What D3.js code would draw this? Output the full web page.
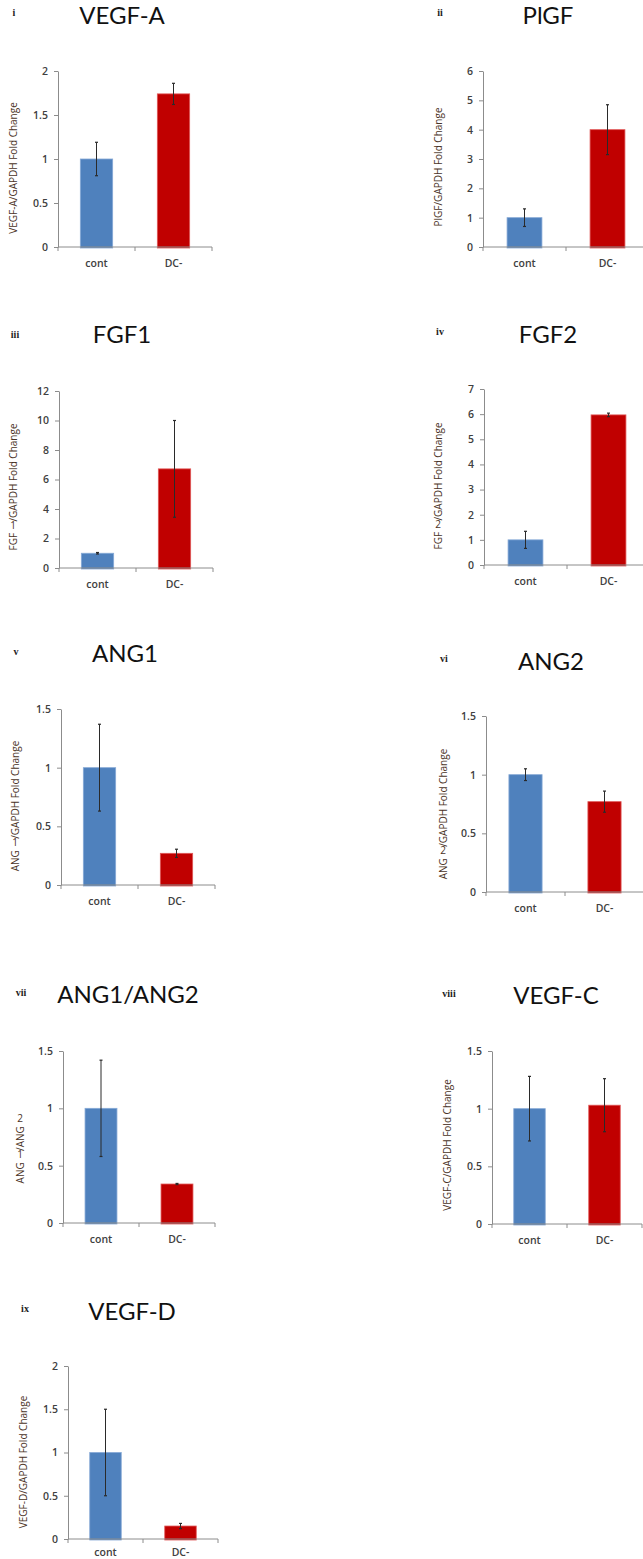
<!DOCTYPE html>
<html>
<head>
<meta charset="utf-8">
<script src="https://cdn.jsdelivr.net/npm/d3@7"></script>
<style>
  html, body { margin: 0; padding: 0; background: #fff; }
  svg { display: block; }
</style>
</head>
<body>
<svg id="chart" width="643" height="1559"></svg>
<script>
// ---------- DATA ----------
const panelIds = ["i", "ii", "iii", "iv", "v", "vi", "vii", "viii", "ix"];
const titles = ["VEGF-A", "PlGF", "FGF1", "FGF2", "ANG1", "ANG2", "ANG1/ANG2", "VEGF-C", "VEGF-D"];
const yLabels = [
  "VEGF-A/GAPDH Fold Change",
  "PlGF/GAPDH Fold Change",
  "FGF 1/GAPDH Fold Change",
  "FGF 2/GAPDH Fold Change",
  "ANG 1/GAPDH Fold Change",
  "ANG 2/GAPDH Fold Change",
  "ANG 1/ANG 2",
  "VEGF-C/GAPDH Fold Change",
  "VEGF-D/GAPDH Fold Change"
];
const categories = ["cont", "DC-"];
const contMeans = [1.0, 1.0, 1.0, 1.0, 1.0, 1.0, 1.0, 1.0, 1.0];
const contErrs  = [0.19, 0.30, 0.05, 0.34, 0.37, 0.05, 0.42, 0.28, 0.50];
const dcMeans   = [1.74, 4.0, 6.72, 5.97, 0.27, 0.77, 0.34, 1.03, 0.15];
const dcErrs    = [0.12, 0.85, 3.28, 0.07, 0.035, 0.09, 0.005, 0.23, 0.03];
const yMaxes    = [2, 6, 12, 7, 1.5, 1.5, 1.5, 1.5, 2];
const yTickSteps = [0.5, 1, 2, 1, 0.5, 0.5, 0.5, 0.5, 0.5];

// ---------- LAYOUT (positions only) ----------
const layout = [
  { ax: 58,  top: 71,   zero: 247,  cw: 77, tx: 122, ty: 24,   nx: 14,  ny: 16,   lx: 13,  ly: 168 },
  { ax: 483, top: 71,   zero: 247,  cw: 83, tx: 548, ty: 24,   nx: 440, ny: 16,   lx: 438, ly: 167 },
  { ax: 59,  top: 391,  zero: 568,  cw: 77, tx: 122, ty: 343,  nx: 15,  ny: 338,  lx: 13,  ly: 487 },
  { ax: 484, top: 389,  zero: 565,  cw: 83, tx: 548, ty: 343,  nx: 440, ny: 335,  lx: 438, ly: 486 },
  { ax: 61,  top: 709,  zero: 885,  cw: 77, tx: 125, ty: 662,  nx: 16,  ny: 655,  lx: 15,  ly: 806 },
  { ax: 486, top: 716,  zero: 892,  cw: 79, tx: 551, ty: 670,  nx: 444, ny: 662,  lx: 443, ly: 814 },
  { ax: 63,  top: 1051, zero: 1223, cw: 76, tx: 128, ty: 1003, nx: 21,  ny: 996,  lx: 20,  ly: 1150 },
  { ax: 492, top: 1051, zero: 1224, cw: 75, tx: 556, ty: 1004, nx: 449, ny: 997,  lx: 447, ly: 1145 },
  { ax: 68,  top: 1366, zero: 1539, cw: 75, tx: 132, ty: 1320, nx: 25,  ny: 1312, lx: 23,  ly: 1462 }
];

const colors = { "cont": "#4f81bd", "DC-": "#c00000" };
const strokes = { "cont": "#86a9d6", "DC-": "#e05858" };
const axisColor = "#8c8c8c";
const H = 1559;

const svg = d3.select("#chart");

panelIds.forEach((pid, i) => {
  const L = layout[i];
  const g = svg.append("g");

  const y = d3.scaleLinear().domain([0, yMaxes[i]]).range([L.zero, L.top]);
  const x = d3.scaleBand().domain(categories)
    .range([L.ax, L.ax + 2 * L.cw]).paddingInner(0.58).paddingOuter(0.29);

  const ticks = d3.range(0, yMaxes[i] + yTickSteps[i] / 2, yTickSteps[i]);

  // y axis
  const yAxis = d3.axisLeft(y).tickValues(ticks).tickFormat(d3.format("~g"))
    .tickSizeInner(4).tickSizeOuter(0).tickPadding(6);
  const ya = g.append("g").attr("transform", `translate(${L.ax},0)`).call(yAxis);
  ya.select(".domain").attr("stroke", axisColor);
  ya.selectAll(".tick line").attr("stroke", axisColor);
  ya.selectAll(".tick text")
    .attr("fill", "#404040")
    .style("font-family", "'Open Sans', sans-serif")
    .style("font-size", "10.5px")
    .style("font-weight", "600");

  // bars
  const rows = categories.map((c, k) => ({
    cat: c,
    v: k === 0 ? contMeans[i] : dcMeans[i],
    e: k === 0 ? contErrs[i] : dcErrs[i]
  }));

  g.selectAll("rect.bar").data(rows).enter().append("rect")
    .attr("class", "bar")
    .attr("x", d => x(d.cat))
    .attr("width", x.bandwidth())
    .attr("y", d => y(d.v))
    .attr("height", d => y(0) - y(d.v) + 1)
    .attr("fill", d => colors[d.cat])
    .attr("stroke", d => strokes[d.cat])
    .attr("stroke-width", 0.8);

  // x axis line + ticks
  const xa = g.append("g");
  xa.append("line")
    .attr("x1", L.ax).attr("x2", L.ax + 2 * L.cw)
    .attr("y1", y(0)).attr("y2", y(0))
    .attr("stroke", axisColor).attr("stroke-width", 1);
  xa.selectAll("line.xt").data([0, 1, 2]).enter().append("line")
    .attr("class", "xt")
    .attr("x1", k => L.ax + k * L.cw).attr("x2", k => L.ax + k * L.cw)
    .attr("y1", y(0)).attr("y2", y(0) + 4)
    .attr("stroke", axisColor);
  xa.selectAll("text.xl").data(categories).enter().append("text")
    .attr("class", "xl")
    .attr("x", c => x(c) + x.bandwidth() / 2)
    .attr("y", Math.min(y(0) + 20, H - 3))
    .attr("text-anchor", "middle")
    .attr("fill", "#404040")
    .style("font-family", "'Open Sans', sans-serif")
    .style("font-size", "10.5px")
    .style("font-weight", "600")
    .text(c => c);

  // error bars
  const eb = g.selectAll("g.eb").data(rows).enter().append("g").attr("class", "eb");
  eb.append("line")
    .attr("x1", d => x(d.cat) + x.bandwidth() / 2).attr("x2", d => x(d.cat) + x.bandwidth() / 2)
    .attr("y1", d => y(d.v + d.e)).attr("y2", d => y(d.v - d.e))
    .attr("stroke", "#2a2a2a").attr("stroke-width", 1);
  ["+", "-"].forEach(s => {
    eb.append("line")
      .attr("x1", d => x(d.cat) + x.bandwidth() / 2 - 1.5)
      .attr("x2", d => x(d.cat) + x.bandwidth() / 2 + 1.5)
      .attr("y1", d => y(s === "+" ? d.v + d.e : d.v - d.e))
      .attr("y2", d => y(s === "+" ? d.v + d.e : d.v - d.e))
      .attr("stroke", "#2a2a2a").attr("stroke-width", 1.2);
  });

  // title
  g.append("text")
    .attr("x", L.tx).attr("y", L.ty)
    .attr("text-anchor", "middle")
    .attr("fill", "#111")
    .style("font-family", "Lato, 'Open Sans', sans-serif")
    .style("font-size", "24px")
    .text(titles[i]);

  // roman numeral
  g.append("text")
    .attr("x", L.nx).attr("y", L.ny)
    .attr("text-anchor", "middle")
    .attr("fill", "#222")
    .style("font-family", "'Liberation Serif', serif")
    .style("font-weight", "bold")
    .style("font-size", "10px")
    .text(pid);

  // y label (digits drawn upright on the page, as in the reference)
  const yl = g.append("text")
    .attr("transform", `translate(${L.lx},${L.ly}) rotate(-90)`)
    .attr("text-anchor", "middle")
    .attr("y", "0.35em")
    .attr("fill", "#4a3326")
    .style("font-family", "'Open Sans', sans-serif")
    .style("font-size", "10px");
  const parts = yLabels[i].match(/\d|[^\d]+/g);
  let shifted = false;
  parts.forEach(p => {
    const t = yl.append("tspan").text(p);
    if (/\d/.test(p)) {
      t.attr("rotate", 90).attr("dy", shifted ? null : "-0.62em").attr("dx", "0.12em");
      shifted = true;
    } else if (shifted) {
      t.attr("dy", "0.62em").attr("dx", "0.18em");
      shifted = false;
    }
  });
});
</script>
</body>
</html>
